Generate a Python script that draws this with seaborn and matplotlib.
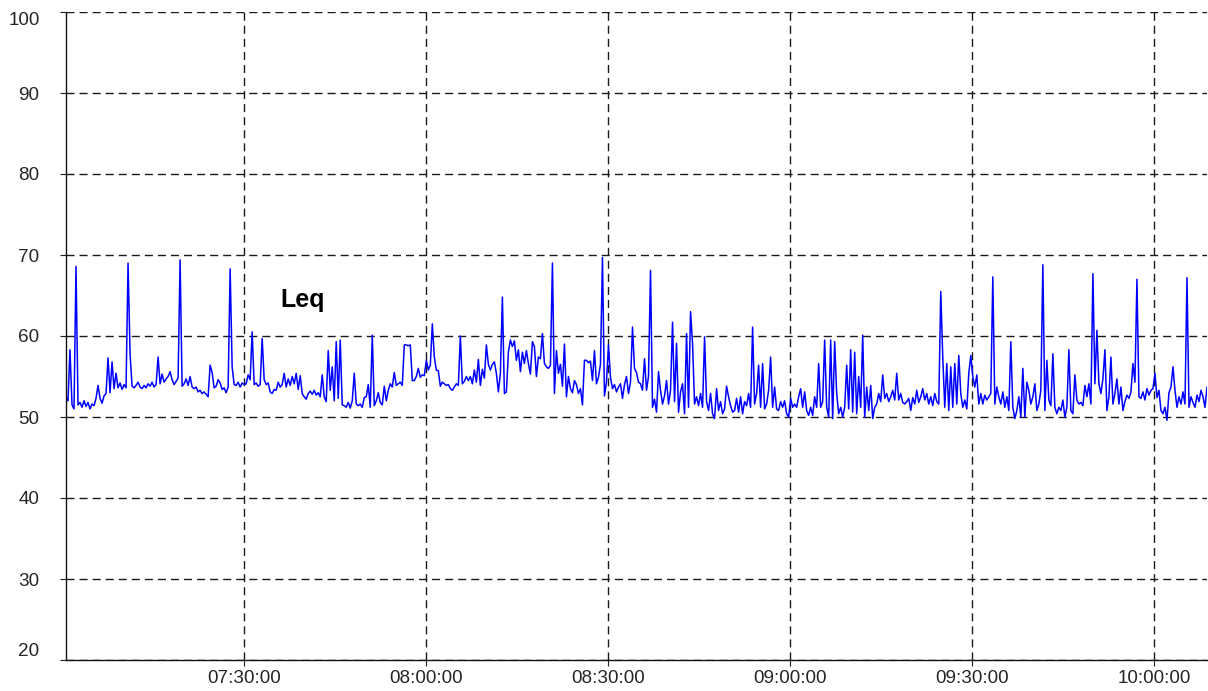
import matplotlib
matplotlib.use("Agg")
import matplotlib.pyplot as plt
import matplotlib.dates as mdates
import numpy as np
import pandas as pd
import seaborn as sns

# ---- data -------------------------------------------------------------
start_time = "2000-01-01 07:00:38"
end_time = "2000-01-01 10:08:45"

leq_values = [
    52.5, 52.0, 58.3, 51.5, 51.0, 68.6, 51.5, 51.8, 51.2, 52.0,
    51.3, 51.8, 51.0, 51.6, 51.4, 52.3, 53.9, 52.3, 51.7, 52.6,
    52.9, 57.3, 53.0, 56.8, 53.5, 55.4, 53.6, 54.2, 53.4, 54.0,
    53.6, 69.0, 57.8, 53.8, 53.6, 53.9, 54.3, 53.7, 53.5, 53.9,
    53.6, 54.1, 53.8, 54.3, 53.7, 54.0, 57.4, 54.1,
    55.3, 54.3, 54.7, 55.0, 55.6, 54.6, 54.0, 54.4, 54.8, 69.4,
    53.8, 54.1, 54.7, 53.9, 55.0, 53.7, 53.5, 53.7, 53.1, 53.3,
    52.9, 53.1, 52.8, 52.5, 56.4, 55.5, 53.6, 53.8, 54.6, 54.2,
    53.4, 53.6, 53.0, 53.7, 68.3, 56.2, 54.0, 53.9, 54.3, 53.7,
    54.2, 54.0, 54.1, 55.2, 54.6, 60.5, 54.0, 54.2, 53.8, 54.0,
    59.7, 54.6, 54.0, 54.2, 53.1, 52.9, 53.4, 53.3, 54.3, 53.7,
    54.0, 55.4, 53.7, 54.7, 53.9, 55.0, 54.1, 55.4, 53.4, 55.1,
    52.9, 52.5, 52.2, 52.9, 53.2, 52.8, 53.3, 52.7, 53.0, 52.5,
    55.2, 52.5, 51.9, 58.2, 53.3, 56.2, 52.0, 59.3, 52.3, 59.5,
    51.5, 51.4, 51.2, 51.8, 51.1, 52.0, 55.4, 51.6, 51.4, 51.6,
    51.2, 52.4, 52.5, 54.0, 51.2, 60.1, 51.4, 52.0, 53.0, 51.8,
    51.5, 53.8, 52.0, 53.3, 54.1, 53.7, 55.5, 53.9, 54.1, 54.3,
    53.9, 58.9, 58.9, 58.8, 58.9, 54.5, 54.5, 55.0, 56.0, 54.9,
    55.2, 55.1, 57.0, 55.8, 56.4, 61.5, 57.4, 55.8, 55.7, 53.8,
    54.3, 54.1, 53.9, 54.0, 53.5, 53.3, 53.7, 54.1, 53.9, 60.0,
    54.1, 54.4, 55.0, 54.5, 55.0, 54.1, 55.8, 54.3, 57.1, 53.9,
    55.9, 54.8, 58.9, 56.5, 55.8, 56.5, 56.8, 55.4, 53.1, 55.4,
    64.8, 52.9, 53.1, 58.0, 59.5, 58.7, 59.4, 57.0, 58.3, 55.6,
    58.0, 56.6, 58.2, 56.6, 55.3, 59.3, 58.7, 55.0, 57.4, 57.2,
    60.3, 56.6, 56.2, 56.0, 56.4, 69.0, 52.9, 58.2, 55.4, 56.5,
    53.8, 59.0, 52.5, 55.0, 53.5, 53.0, 54.5, 54.0, 52.9, 53.5,
    51.5, 57.0, 57.0, 56.7, 56.9, 54.5, 58.2, 54.1, 54.9, 56.5,
    69.7, 52.6, 54.3, 58.9, 54.9, 53.5, 54.0, 53.1, 53.7, 54.1,
    52.3, 54.0, 55.0, 52.9, 54.3, 61.1, 56.0, 55.5, 54.3, 54.1,
    53.3, 57.2, 53.3, 55.0, 68.1, 51.2, 52.2, 50.6, 55.6, 53.3,
    51.6, 52.6, 54.5, 51.6, 53.3, 61.7, 51.9, 59.1, 50.6, 53.1,
    54.1, 50.4, 60.3, 51.2, 63.0, 59.1, 51.6, 52.5, 51.4, 52.9,
    51.2, 59.9, 51.9, 50.8, 52.9, 50.4, 49.8, 53.5, 50.8, 51.9,
    50.4, 51.0, 53.8, 52.5, 51.4, 50.6, 50.8, 52.3, 50.6, 52.5,
    50.4, 51.9, 51.4, 52.9, 51.2, 61.1, 51.6, 52.9, 56.4, 51.2,
    56.6, 51.0, 51.6, 53.3, 57.4, 51.2, 53.7, 51.0, 50.8, 51.9,
    51.2, 52.0, 50.4, 50.0, 52.3, 51.2, 51.6, 51.2, 52.5, 53.5,
    51.2, 53.1, 50.8, 50.2, 51.2, 50.2, 52.5, 51.2, 56.6, 51.2,
    51.9, 59.5, 51.2, 50.0, 59.5, 49.8, 59.3, 52.9, 50.4, 51.2,
    50.0, 51.2, 56.4, 51.0, 58.3, 50.6, 58.0, 50.4, 55.0, 51.2,
    60.1, 50.0, 53.7, 50.8, 53.9, 49.8, 51.2, 51.6, 52.9, 51.9,
    55.2, 52.3, 52.9, 51.9, 52.5, 53.3, 52.1, 55.4, 52.1, 52.9,
    51.8, 51.6, 51.9, 52.3, 50.8, 52.4, 51.6, 53.3, 51.8, 52.5,
    53.5, 52.1, 52.9, 51.6, 52.5, 51.4, 52.9, 51.9, 51.6, 65.5,
    57.4, 51.2, 56.6, 50.8, 56.2, 51.2, 56.6, 51.6, 57.6, 52.9,
    51.2, 52.1, 51.0, 55.4, 57.6, 55.0, 53.7, 55.2, 51.6, 52.9,
    51.6, 52.7, 52.1, 52.5, 52.9, 67.3, 51.6, 53.7, 52.5, 51.6,
    53.1, 51.2, 52.5, 50.8, 59.3, 51.2, 49.8, 50.8, 52.5, 50.0,
    56.0, 50.0, 54.3, 53.3, 51.6, 52.5, 54.1, 50.8, 51.6, 53.3,
    68.8, 50.8, 57.0, 52.1, 51.4, 57.8, 51.2, 50.4, 51.2, 50.8,
    52.1, 50.0, 51.2, 58.3, 50.8, 50.4, 55.2, 52.1, 51.6, 51.8,
    51.4, 53.9, 52.5, 54.1, 51.6, 67.7, 54.1, 60.7, 54.1, 52.9,
    54.7, 58.3, 50.8, 52.5, 57.4, 51.6, 52.9, 54.7, 51.6, 53.7,
    50.8, 51.9, 52.7, 52.3, 53.1, 56.6, 54.3, 67.0, 52.5, 52.3,
    53.1, 52.1, 53.5, 52.7, 53.3, 53.5, 55.4, 52.4, 53.3, 50.8,
    50.4, 51.2, 49.6, 53.0, 53.7, 56.2, 53.3, 51.2, 52.5, 51.6,
    53.1, 51.6, 67.2, 51.2, 52.5, 51.8, 51.2, 52.7, 51.9, 53.3,
    52.5, 51.2, 53.7,
]

y_ticks = [20, 30, 40, 50, 60, 70, 80, 90, 100]
series_label = "Leq"

# ---- figure -----------------------------------------------------------
times = pd.date_range(start_time, end_time, periods=len(leq_values))
df = pd.DataFrame({"time": times, "leq": leq_values})

sns.set_style("white")
plt.rcParams["font.family"] = ["Liberation Sans", "DejaVu Sans"]

W, H = 1208, 691
fig = plt.figure(figsize=(W / 100, H / 100), dpi=100)
ax = fig.add_axes([66 / W, (H - 660) / H, (1207 - 66) / W, (660 - 12) / H])

sns.lineplot(data=df, x="time", y="leq", ax=ax, color="#0000FF",
             linewidth=1.1, legend=False)

ax.set_xlim(times[0], times[-1])
ax.set_ylim(20, 100)
ax.set_yticks(y_ticks)
ax.set_yticklabels([str(v) for v in y_ticks])
ax.xaxis.set_major_locator(mdates.MinuteLocator(byminute=[0, 30]))
ax.xaxis.set_major_formatter(mdates.DateFormatter("%H:%M:%S"))

ax.grid(True, which="major", color="#1a1a1a", linestyle=(0, (5.8, 3.6)),
        linewidth=1.0)
ax.set_axisbelow(True)

for side in ["top", "right"]:
    ax.spines[side].set_visible(False)
for side in ["left", "bottom"]:
    ax.spines[side].set_color("#111111")
    ax.spines[side].set_linewidth(1.0)

ax.tick_params(axis="x", direction="out", length=4, width=0.8,
               color="#222222", labelsize=13.6, pad=3.5, bottom=True)
ax.tick_params(axis="y", direction="out", length=4, width=0.8,
               color="#222222", labelsize=13.6, pad=15, left=True)

ylabels = ax.get_yticklabels()
ylabels[0].set_va("bottom")
ylabels[-1].set_va("top")

ax.set_xlabel("")
ax.set_ylabel("")

ax.text(pd.Timestamp("2000-01-01 07:35:55"), 64.4, series_label,
        fontsize=18, fontweight="bold", ha="left", va="center",
        color="black")

fig.savefig("out.png", dpi=100)
